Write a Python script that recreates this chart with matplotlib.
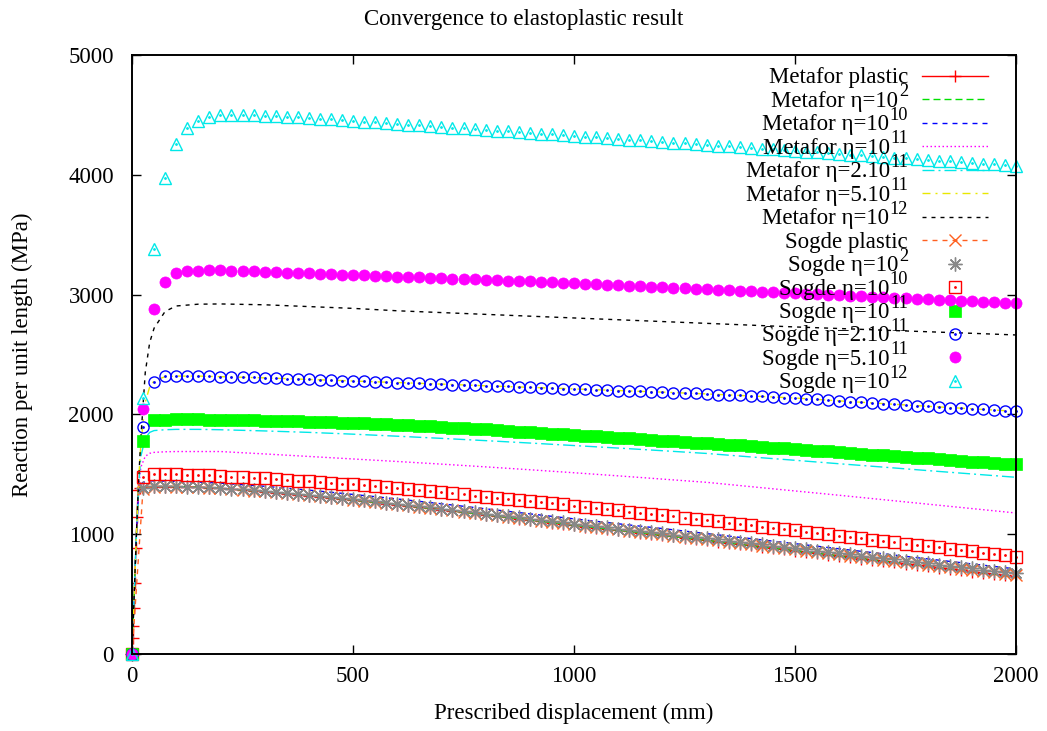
import numpy as np
import matplotlib
matplotlib.use("Agg")
import matplotlib.pyplot as plt

plt.rcParams['font.family'] = ['Liberation Serif', 'DejaVu Serif']
plt.rcParams['lines.scale_dashes'] = False

# ---------------- data ----------------
title = "Convergence to elastoplastic result"
xlabel = "Prescribed displacement (mm)"
ylabel = "Reaction per unit length (MPa)"

# Sogde results: sampled every 25 mm from 0 to 2000 mm
sogde_x = np.arange(0, 2001, 25)

sogde_plastic = [
    0, 1380, 1398, 1400, 1398, 1396, 1393, 1389, 1384, 1378,
    1371, 1364, 1357, 1349, 1341, 1333, 1325, 1316, 1307, 1298,
    1289, 1280, 1270, 1260, 1250, 1240, 1230, 1220, 1210, 1199,
    1189, 1178, 1168, 1157, 1146, 1136, 1125, 1114, 1104, 1093,
    1082, 1071, 1061, 1051, 1040, 1030, 1020, 1010, 999, 989,
    979, 969, 958, 948, 937, 927, 916, 905, 895, 884,
    873, 863, 852, 841, 831, 820, 809, 799, 788, 777,
    767, 756, 745, 735, 724, 713, 703, 692, 681, 671,
    660]
sogde_e2 = [
    0, 1385, 1400, 1402, 1400, 1398, 1395, 1391, 1386, 1380,
    1374, 1367, 1360, 1352, 1344, 1336, 1328, 1319, 1310, 1301,
    1292, 1283, 1274, 1264, 1254, 1244, 1234, 1224, 1214, 1203,
    1193, 1183, 1172, 1162, 1151, 1141, 1130, 1120, 1109, 1098,
    1088, 1077, 1067, 1057, 1047, 1037, 1027, 1017, 1007, 997,
    987, 977, 967, 957, 946, 936, 925, 915, 904, 894,
    883, 873, 862, 852, 841, 831, 820, 810, 799, 789,
    778, 768, 757, 747, 736, 726, 715, 705, 694, 684,
    673]
sogde_e10 = [
    0, 1480, 1500, 1502, 1500, 1497, 1494, 1490, 1486, 1481,
    1476, 1471, 1466, 1460, 1454, 1448, 1442, 1436, 1429, 1422,
    1415, 1408, 1400, 1392, 1384, 1376, 1368, 1359, 1350, 1341,
    1332, 1323, 1314, 1305, 1296, 1286, 1277, 1267, 1258, 1248,
    1239, 1229, 1219, 1209, 1199, 1189, 1179, 1169, 1159, 1149,
    1139, 1128, 1118, 1107, 1097, 1086, 1075, 1064, 1054, 1043,
    1032, 1021, 1010, 999, 988, 977, 966, 955, 944, 933,
    922, 911, 900, 889, 878, 867, 856, 845, 834, 823,
    812]
sogde_e11 = [
    0, 1778, 1950, 1955, 1958, 1958, 1958, 1957, 1955, 1954,
    1952, 1951, 1949, 1947, 1945, 1943, 1940, 1937, 1934, 1931,
    1928, 1925, 1921, 1917, 1913, 1909, 1905, 1900, 1895, 1890,
    1885, 1880, 1875, 1869, 1863, 1857, 1851, 1845, 1839, 1833,
    1827, 1822, 1816, 1811, 1805, 1799, 1794, 1788, 1782, 1777,
    1771, 1765, 1759, 1753, 1747, 1741, 1735, 1729, 1723, 1717,
    1711, 1704, 1698, 1691, 1685, 1678, 1672, 1665, 1658, 1652,
    1645, 1639, 1632, 1625, 1619, 1612, 1605, 1599, 1592, 1586,
    1590]
sogde_2e11 = [
    0, 1895, 2273, 2318, 2322, 2322, 2320, 2318, 2315, 2314,
    2312, 2309, 2305, 2302, 2299, 2295, 2292, 2289, 2286, 2282,
    2279, 2276, 2272, 2269, 2266, 2262, 2259, 2256, 2253, 2249,
    2246, 2243, 2239, 2236, 2233, 2229, 2226, 2223, 2220, 2216,
    2213, 2210, 2206, 2203, 2199, 2196, 2193, 2189, 2186, 2182,
    2179, 2175, 2171, 2166, 2162, 2158, 2154, 2150, 2145, 2141,
    2137, 2131, 2125, 2119, 2113, 2107, 2102, 2096, 2090, 2084,
    2078, 2073, 2068, 2062, 2057, 2052, 2047, 2042, 2036, 2031,
    2026]
sogde_5e11 = [
    0, 2045, 2880, 3105, 3180, 3195, 3198, 3202, 3203, 3200,
    3198, 3195, 3191, 3188, 3184, 3181, 3178, 3174, 3171, 3167,
    3164, 3161, 3157, 3154, 3150, 3147, 3143, 3140, 3137, 3133,
    3130, 3127, 3123, 3120, 3116, 3113, 3110, 3106, 3103, 3099,
    3096, 3092, 3088, 3084, 3079, 3075, 3071, 3067, 3063, 3059,
    3054, 3050, 3046, 3042, 3038, 3034, 3029, 3025, 3021, 3017,
    3013, 3009, 3004, 3000, 2996, 2992, 2988, 2984, 2979, 2975,
    2971, 2967, 2963, 2959, 2954, 2950, 2946, 2942, 2938, 2934,
    2930]
sogde_e12 = [
    0, 2140, 3380, 3975, 4255, 4390, 4450, 4480, 4495, 4500,
    4500, 4497, 4493, 4489, 4484, 4479, 4474, 4468, 4462, 4456,
    4450, 4444, 4437, 4431, 4425, 4419, 4412, 4406, 4400, 4394,
    4387, 4381, 4375, 4369, 4362, 4356, 4350, 4344, 4337, 4331,
    4325, 4319, 4312, 4306, 4300, 4294, 4287, 4281, 4275, 4269,
    4262, 4256, 4250, 4244, 4237, 4231, 4225, 4219, 4212, 4206,
    4200, 4194, 4187, 4181, 4175, 4169, 4162, 4156, 4150, 4144,
    4137, 4131, 4125, 4119, 4112, 4106, 4100, 4094, 4087, 4081,
    4075]

# Metafor plastic: fine steps on the elastic ramp, then every 25 mm
metafor_plastic_x = np.concatenate([[0, 0.2, 1.3, 2.3, 3.9, 6.0, 8.9, 11.4, 13.7, 18], np.arange(25, 2001, 25)])
metafor_plastic = [
    0, 19, 134, 234, 386, 595, 885, 1143, 1369, 1388,
    1390, 1396, 1398, 1397, 1395, 1392, 1388, 1382, 1375, 1369,
    1362, 1355, 1347, 1339, 1330, 1322, 1313, 1304, 1294, 1285,
    1276, 1266, 1256, 1246, 1236, 1225, 1215, 1205, 1194, 1184,
    1173, 1162, 1151, 1140, 1130, 1119, 1108, 1097, 1086, 1075,
    1064, 1054, 1043, 1033, 1023, 1012, 1002, 991, 981, 970,
    960, 949, 939, 928, 917, 906, 895, 884, 874, 863,
    852, 841, 830, 819, 808, 797, 787, 776, 765, 754,
    743, 732, 721, 710, 699, 688, 678, 667, 656, 645]

# Metafor viscous results
metafor_x = [0, 5, 10, 15, 20, 30, 40, 50, 75, 100, 150, 200, 300, 400, 500,
             600, 700, 800, 900, 1000, 1100, 1200, 1300, 1400, 1500, 1600,
             1700, 1800, 1900, 2000]
metafor_e2 = [0, 500, 1000, 1370, 1390, 1395, 1397, 1396, 1398, 1397, 1392, 1382,
              1355, 1322, 1285, 1246, 1205, 1162, 1119, 1075, 1033, 991, 949,
              906, 863, 819, 776, 732, 688, 645]
metafor_e10 = [0, 500, 1000, 1350, 1420, 1440, 1445, 1445, 1443, 1440, 1435, 1426,
               1400, 1368, 1332, 1294, 1254, 1212, 1170, 1128, 1087, 1047, 1005,
               963, 921, 878, 836, 794, 752, 710]
metafor_e11 = [0, 500, 1000, 1380, 1560, 1650, 1675, 1683, 1688, 1690, 1690, 1690,
               1670, 1649, 1628, 1607, 1585, 1562, 1538, 1513, 1487, 1460, 1433,
               1397, 1361, 1325, 1288, 1251, 1214, 1177]
metafor_2e11 = [0, 500, 1000, 1400, 1650, 1800, 1850, 1865, 1872, 1875, 1875, 1872,
                1862, 1850, 1835, 1818, 1800, 1781, 1761, 1740, 1719, 1697, 1674,
                1645, 1617, 1588, 1560, 1531, 1503, 1475]
metafor_5e11 = [0, 500, 1000, 1450, 1750, 2100, 2230, 2280, 2315, 2320, 2320, 2315,
                2305, 2292, 2279, 2266, 2253, 2239, 2226, 2213, 2199, 2186, 2171,
                2154, 2137, 2113, 2090, 2068, 2047, 2026]
metafor_e12 = [0, 500, 1000, 1450, 1800, 2350, 2600, 2720, 2860, 2905, 2920, 2922,
               2915, 2900, 2885, 2865, 2850, 2835, 2820, 2805, 2790, 2775, 2760,
               2745, 2730, 2717, 2703, 2690, 2677, 2663]

# legend labels: (base text, superscript)
labels = [
    ("Metafor plastic", None),
    ("Metafor η=10", "2"),
    ("Metafor η=10", "10"),
    ("Metafor η=10", "11"),
    ("Metafor η=2.10", "11"),
    ("Metafor η=5.10", "11"),
    ("Metafor η=10", "12"),
    ("Sogde plastic", None),
    ("Sogde η=10", "2"),
    ("Sogde η=10", "10"),
    ("Sogde η=10", "11"),
    ("Sogde η=2.10", "11"),
    ("Sogde η=5.10", "11"),
    ("Sogde η=10", "12"),
]

# ---------------- figure ----------------
W, H = 1047, 731
fig = plt.figure(figsize=(W / 100, H / 100), dpi=100)
L, R, T, B = 132, 1016, 55, 654
ax = fig.add_axes([L / W, 1 - B / H, (R - L) / W, (B - T) / H])
renderer = fig.canvas.get_renderer()

FS = 16.5
px = 0.72  # points per pixel

metafor_series = [
    (metafor_plastic_x, metafor_plastic, dict(color='#ff0000', lw=1.0, ls='-', marker='+', ms=9, mew=1.0)),
    (metafor_x, metafor_e2, dict(color='#00e000', lw=1.0, dashes=(7 * px, 4 * px))),
    (metafor_x, metafor_e10, dict(color='#0000ff', lw=1.0, dashes=(5 * px, 5 * px))),
    (metafor_x, metafor_e11, dict(color='#ff00ff', lw=1.0, dashes=(1.5 * px, 2.5 * px))),
    (metafor_x, metafor_2e11, dict(color='#00e8e8', lw=1.0, dashes=(12 * px, 4 * px, 2 * px, 4 * px))),
    (metafor_x, metafor_5e11, dict(color='#e8e800', lw=1.0, dashes=(8 * px, 5 * px, 2 * px, 5 * px))),
    (metafor_x, metafor_e12, dict(color='#000000', lw=1.0, dashes=(4 * px, 5 * px))),
]
sogde_series = [
    (sogde_plastic, dict(color='#ff6020', lw=1.0, dashes=(5 * px, 5 * px), marker='x', ms=8, mew=1.0), False),
    (sogde_e2, dict(color='#888888', ls='none', marker=(8, 2, 0), ms=10, mew=1.0), False),
    (sogde_e10, dict(color='#ff0000', ls='none', marker='s', ms=8, mew=1.0, mfc='none'), True),
    (sogde_e11, dict(color='#00ff00', ls='none', marker='s', ms=8.5, mew=0.5), False),
    (sogde_2e11, dict(color='#0000ff', ls='none', marker='o', ms=8, mew=1.0, mfc='none'), True),
    (sogde_5e11, dict(color='#ff00ff', ls='none', marker='o', ms=8, mew=0.5), False),
    (sogde_e12, dict(color='#00e8e8', ls='none', marker='^', ms=9, mew=1.0, mfc='none'), True),
]

# legend geometry (axes fraction)
row0, dy = 76, 23.45
AW, AH = (R - L), (B - T)
tx = (908 - L) / AW
s0, s1 = (922 - L) / AW, (988 - L) / AW
sm = (s0 + s1) / 2

def row_y(i):
    return (B - (row0 + dy * i)) / AH

def base_y(i):
    return (B - (row0 + dy * i + 7.5)) / AH

def draw_label(i):
    base, sup = labels[i]
    x_right = tx
    if sup is not None:
        ts = ax.text(tx, base_y(i) + 10.5 / AH, sup, transform=ax.transAxes,
                     ha='right', va='baseline', fontsize=FS * 0.8)
        w = ts.get_window_extent(renderer).width
        x_right = tx - (w + 0.5) / AW
    ax.text(x_right, base_y(i), base, transform=ax.transAxes, ha='right',
            va='baseline', fontsize=FS)

i = 0
for xs, ys, st in metafor_series:
    ax.plot(xs, ys, **st)
    draw_label(i)
    st2 = {k: v for k, v in st.items() if k not in ('marker', 'ms', 'mew')}
    ax.plot([s0, s1], [row_y(i)] * 2, transform=ax.transAxes, clip_on=False, **st2)
    if 'marker' in st:
        ax.plot([sm], [row_y(i)], transform=ax.transAxes, clip_on=False, color=st['color'],
                ls='none', marker=st['marker'], ms=st['ms'], mew=st['mew'])
    i += 1

for ys, st, dot in sogde_series:
    ax.plot(sogde_x, ys, clip_on=False, **st)
    if dot:
        ax.plot(sogde_x, ys, ls='none', marker='.', ms=2, color=st['color'], clip_on=False)
    draw_label(i)
    if st.get('ls') != 'none':
        st2 = {k: v for k, v in st.items() if k not in ('marker', 'ms', 'mew')}
        ax.plot([s0, s1], [row_y(i)] * 2, transform=ax.transAxes, clip_on=False, **st2)
    mk = {k: v for k, v in st.items() if k in ('marker', 'ms', 'mew', 'mfc')}
    ax.plot([sm], [row_y(i)], transform=ax.transAxes, clip_on=False, color=st['color'], ls='none', **mk)
    if dot:
        ax.plot([sm], [row_y(i)], transform=ax.transAxes, clip_on=False, color=st['color'],
                ls='none', marker='.', ms=2)
    i += 1

ax.set_xlim(0, 2000)
ax.set_ylim(0, 5000)
ax.set_xticks([0, 500, 1000, 1500, 2000])
ax.set_yticks([0, 1000, 2000, 3000, 4000, 5000])
ax.tick_params(direction='in', length=6.5, width=1.0, top=True, right=True,
               labelsize=FS, colors='black')
ax.tick_params(axis='x', pad=9)
ax.tick_params(axis='y', pad=13)
for sp in ax.spines.values():
    sp.set_linewidth(1.4)

fig.text(0.5, 1 - 19 / H, title, ha='center', va='center', fontsize=FS)
fig.text((L + R) / 2 / W, 1 - 713 / H, xlabel, ha='center', va='center', fontsize=FS)
fig.text(22 / W, 1 - (B + T) / 2 / H, ylabel, ha='center', va='center', rotation=90, fontsize=FS)

fig.savefig("out.png", dpi=100)
